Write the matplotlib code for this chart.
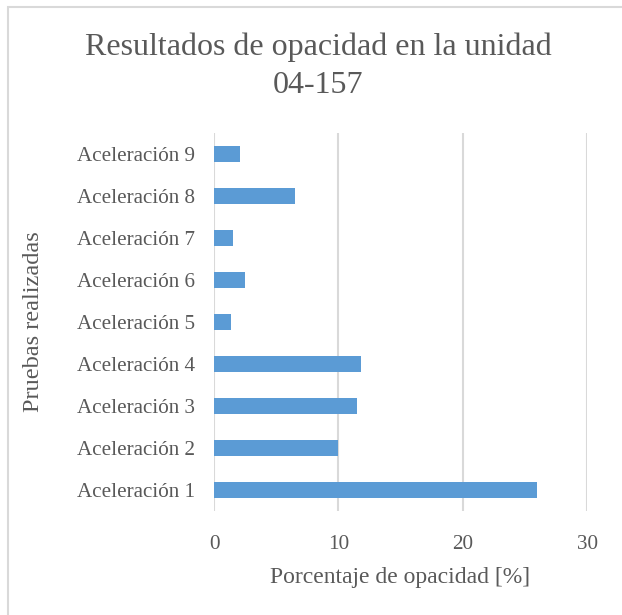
import matplotlib.pyplot as plt
from matplotlib.patches import Rectangle

categories = [f"Aceleración {i}" for i in range(1, 10)]
opacity = [26.0, 10.0, 11.5, 11.8, 1.4, 2.5, 1.5, 6.5, 2.1]
x_ticks = [0, 10, 20, 30]

text_color = "#595959"
grid_color = "#D9D9D9"
bar_color = "#5B9BD5"

plt.rcParams["font.family"] = ["Liberation Serif", "DejaVu Serif"]

W, H = 622, 615
fig = plt.figure(figsize=(W / 100, H / 100), dpi=100)

# chart area frame (right and bottom edges fall outside the image)
fig.patches.append(Rectangle((8 / W, -0.05), 1.1, 1 - 6.5 / H + 0.05,
                             transform=fig.transFigure, fill=False,
                             edgecolor=grid_color, linewidth=1.5))

x0, x1, y0, y1 = 214, 587, 133, 511
ax = fig.add_axes([x0 / W, 1 - y1 / H, (x1 - x0) / W, (y1 - y0) / H])
ax.barh(range(len(categories)), opacity, height=0.4, color=bar_color, zorder=3)
ax.set_ylim(-0.5, len(categories) - 0.5)
ax.set_xlim(0, 30)
ax.set_xticks(x_ticks)
ax.set_yticks(range(len(categories)))
ax.set_yticklabels(categories)

ax.grid(axis="x", color=grid_color, linewidth=1.5, zorder=0)
for s in ax.spines.values():
    s.set_visible(False)
ax.tick_params(axis="both", length=0, labelsize=15.2, colors=text_color)
ax.tick_params(axis="x", pad=17)
ax.tick_params(axis="y", pad=13.5)

ax.set_xlabel("Porcentaje de opacidad [%]", fontsize=17, color=text_color, va="center")
ax.xaxis.set_label_coords((400 - x0) / (x1 - x0), (y1 - 577) / (y1 - y0))
ax.set_ylabel("Pruebas realizadas", fontsize=17.5, color=text_color, va="center")
ax.yaxis.set_label_coords((34 - x0) / (x1 - x0), 0.5)

fig.text(318 / W, 1 - 66.5 / H, "Resultados de opacidad en la unidad\n04-157",
         ha="center", va="center", fontsize=23, color=text_color, linespacing=1.42)

fig.savefig("out.png", dpi=100)
